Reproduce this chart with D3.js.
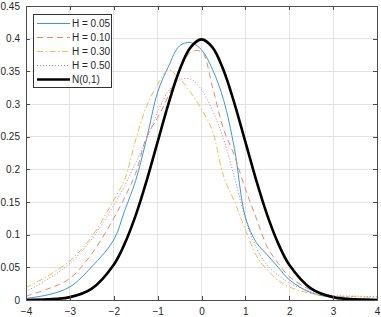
<!DOCTYPE html>
<html><head><meta charset="utf-8">
<script src="https://cdn.jsdelivr.net/npm/d3@7"></script>
<style>body{margin:0;background:#fff}svg{display:block}text{font-family:"Liberation Sans",Arial,sans-serif;font-size:10px;fill:#262626}</style>
</head><body><svg id="c" width="381" height="317"></svg>
<script>
const xs = [-4,-3.5,-3,-2.5,-2,-1.75,-1.5,-1.25,-1,-0.75,-0.5,-0.25,0,0.25,0.5,0.75,1,1.25,1.5,1.75,2,2.5,3,3.5,4];
const h005 = [0.0025,0.008,0.020,0.051,0.092,0.137,0.183,0.247,0.318,0.358,0.389,0.394,0.383,0.353,0.307,0.232,0.127,0.088,0.069,0.050,0.031,0.011,0.004,0.002,0.001];
const h010 = [0.006,0.017,0.033,0.071,0.125,0.157,0.194,0.250,0.279,0.313,0.352,0.379,0.380,0.326,0.262,0.221,0.170,0.125,0.081,0.056,0.036,0.015,0.005,0.002,0.001];
const h030 = [0.019,0.037,0.060,0.097,0.153,0.185,0.245,0.297,0.330,0.352,0.339,0.318,0.292,0.259,0.190,0.151,0.108,0.068,0.046,0.030,0.020,0.010,0.006,0.005,0.004];
const h050 = [0.013,0.032,0.056,0.093,0.145,0.175,0.210,0.246,0.288,0.320,0.337,0.338,0.322,0.290,0.247,0.188,0.124,0.080,0.053,0.038,0.026,0.013,0.007,0.006,0.005];
const norm = [0.0001,0.0009,0.0044,0.0175,0.0540,0.0863,0.1295,0.1826,0.2420,0.3011,0.3521,0.3867,0.3989,0.3867,0.3521,0.3011,0.2420,0.1826,0.1295,0.0863,0.0540,0.0175,0.0044,0.0009,0.0001];
const xTicks = [-4,-3,-2,-1,0,1,2,3,4];
const yTicks = [0,0.05,0.1,0.15,0.2,0.25,0.3,0.35,0.4,0.45];
const labels = ["H = 0.05","H = 0.10","H = 0.30","H = 0.50","N(0,1)"];

const series = [
  {name:labels[0], v:h005, color:"#3a98d8", w:1, dash:null},
  {name:labels[1], v:h010, color:"#ec8860", w:1, dash:"6,4"},
  {name:labels[2], v:h030, color:"#f2bd48", w:1, dash:"6,2.5,1.5,2.5"},
  {name:labels[3], v:h050, color:"#a987c4", w:1, dash:"1,2"},
  {name:labels[4], v:norm, color:"#000000", w:2.6, dash:null}
];

const svg = d3.select("#c");
const L=26,R=377,T=6,B=300;
const x = d3.scaleLinear().domain([-4,4]).range([L,R]);
const y = d3.scaleLinear().domain([0,0.45]).range([B,T]);

// grid
const g = svg.append("g");
g.selectAll(".gx").data(xTicks).enter().append("line")
 .attr("x1",d=>x(d)).attr("x2",d=>x(d)).attr("y1",T).attr("y2",B)
 .attr("stroke","#e3e3e3").attr("stroke-width",1).attr("shape-rendering","crispEdges");
g.selectAll(".gy").data(yTicks).enter().append("line")
 .attr("y1",d=>y(d)).attr("y2",d=>y(d)).attr("x1",L).attr("x2",R)
 .attr("stroke","#e3e3e3").attr("stroke-width",1).attr("shape-rendering","crispEdges");

svg.append("clipPath").attr("id","clip").append("rect").attr("x",L).attr("y",T).attr("width",R-L).attr("height",B-T);

const line = d3.line().x((d,i)=>x(xs[i])).y(d=>y(d)).curve(d3.curveCatmullRom.alpha(0.5));
const pg = svg.append("g").attr("clip-path","url(#clip)");
series.forEach(s=>{
  pg.append("path").attr("d",line(s.v)).attr("fill","none").attr("stroke",s.color)
   .attr("stroke-width",s.w).attr("stroke-dasharray",s.dash);
});

// axes (MATLAB style, box on, inward ticks)
const axB = d3.axisBottom(x).tickValues(xTicks).tickSizeInner(-4).tickSizeOuter(0).tickPadding(8).tickFormat(d3.format("d"));
const axL = d3.axisLeft(y).tickValues(yTicks).tickSizeInner(-4).tickSizeOuter(0).tickPadding(6).tickFormat(d=>d===0?"0":String(+d.toFixed(2)));
const axT = d3.axisTop(x).tickValues(xTicks).tickSizeInner(-4).tickSizeOuter(0).tickFormat("");
const axR = d3.axisRight(y).tickValues(yTicks).tickSizeInner(-4).tickSizeOuter(0).tickFormat("");
function style(sel){
  sel.selectAll("path").attr("stroke","#4d4d4d").attr("shape-rendering","crispEdges");
  sel.selectAll("line").attr("stroke","#4d4d4d").attr("shape-rendering","crispEdges");
  sel.selectAll("text").attr("font-size","10px").attr("font-family","Liberation Sans, Arial, sans-serif").attr("fill","#262626");
}
style(svg.append("g").attr("transform",`translate(0,${B})`).call(axB));
style(svg.append("g").attr("transform",`translate(${L},0)`).call(axL));
style(svg.append("g").attr("transform",`translate(0,${T})`).call(axT));
style(svg.append("g").attr("transform",`translate(${R},0)`).call(axR));

// legend
const lg = svg.append("g");
lg.append("rect").attr("x",33.5).attr("y",14.5).attr("width",78).attr("height",73)
  .attr("fill","#fff").attr("stroke","#333").attr("stroke-width",1);
series.forEach((s,i)=>{
  const yy = 23.5 + i*14;
  lg.append("line").attr("x1",37).attr("x2",70).attr("y1",yy).attr("y2",yy)
    .attr("stroke",s.color).attr("stroke-width",s.w).attr("stroke-dasharray",s.dash);
  lg.append("text").attr("x",72).attr("y",yy+3.5).text(s.name);
});
</script></body></html>
